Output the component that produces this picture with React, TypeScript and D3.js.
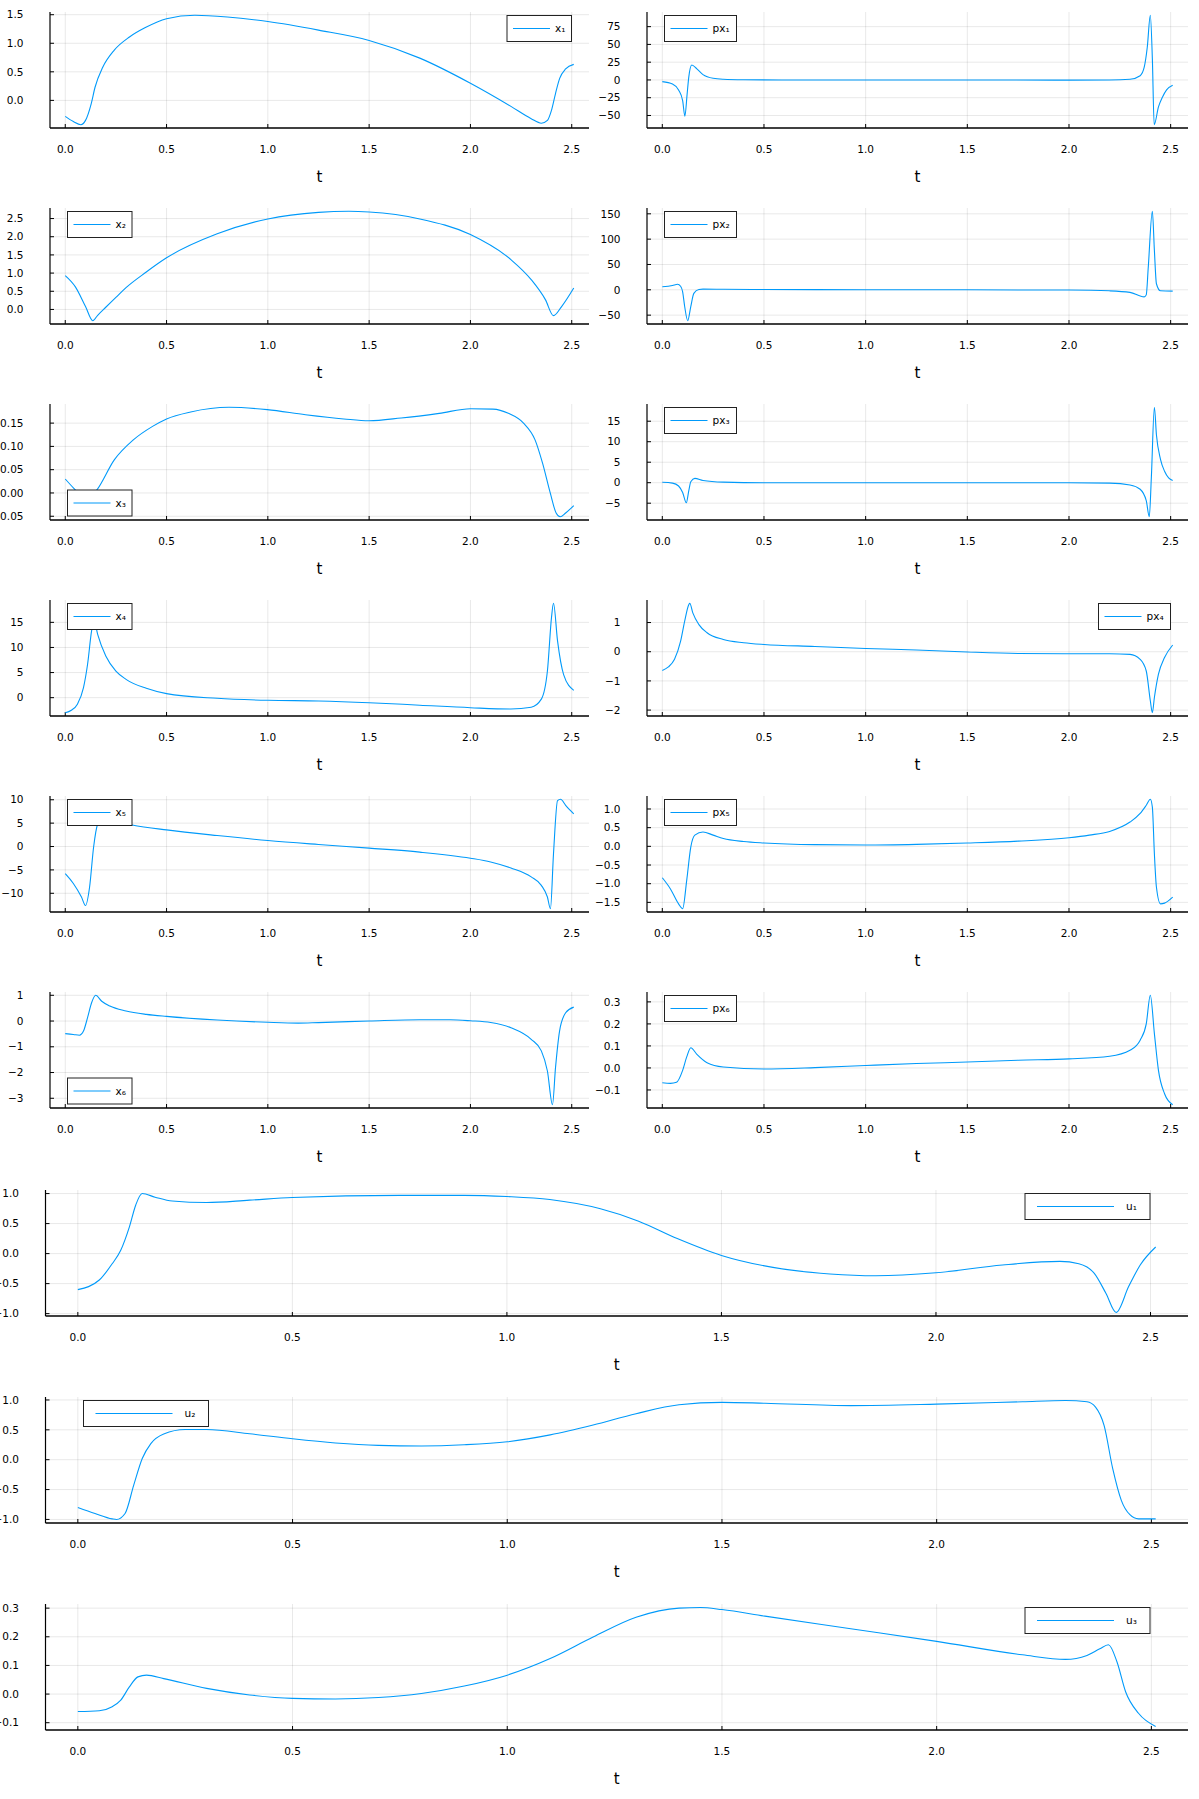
import * as d3 from 'd3';

type Pt = [number, number];

// t grid values for all panels
const tTicks = [0, 0.5, 1, 1.5, 2, 2.5];

const x1: Pt[] = [[0,-0.28],[0.04,-0.37],[0.077,-0.426],[0.1,-0.35],[0.128,-0.06],[0.147,0.23],[0.185,0.58],[0.242,0.88],[0.317,1.11],[0.393,1.27],[0.5,1.43],[0.64,1.49],[0.8,1.46],[1.0,1.38],[1.25,1.23],[1.5,1.05],[1.75,0.74],[2.0,0.30],[2.2,-0.105],[2.3,-0.32],[2.35,-0.40],[2.38,-0.35],[2.4,-0.175],[2.42,0.12],[2.44,0.38],[2.47,0.55],[2.51,0.63]];
const px1: Pt[] = [[0,-2.3],[0.05,-5.6],[0.08,-14],[0.1,-29],[0.111,-51],[0.122,-20],[0.13,3.7],[0.145,21],[0.17,15.5],[0.2,7.5],[0.25,2.3],[0.3,1],[0.4,0.3],[0.6,0],[1.0,0],[1.5,0],[2.0,-0.2],[2.2,0],[2.3,1],[2.35,6],[2.37,18],[2.385,46],[2.4,91],[2.41,30],[2.419,-63],[2.44,-38],[2.46,-24],[2.48,-14],[2.51,-7.5]];
const x2: Pt[] = [[0,0.93],[0.05,0.62],[0.1,0.08],[0.136,-0.31],[0.16,-0.16],[0.2,0.06],[0.25,0.33],[0.3,0.6],[0.4,1.03],[0.5,1.42],[0.75,2.08],[1.0,2.49],[1.25,2.67],[1.4,2.70],[1.5,2.68],[1.75,2.49],[2.0,2.06],[2.2,1.37],[2.3,0.82],[2.37,0.27],[2.41,-0.17],[2.45,0.08],[2.51,0.59]];
const px2: Pt[] = [[0,6],[0.05,8.5],[0.075,11],[0.09,7],[0.1,-4],[0.11,-33],[0.125,-61],[0.14,-33],[0.155,-7],[0.18,0.7],[0.2,1.3],[0.3,1],[0.5,0.5],[1.0,0.2],[1.5,0],[2.0,-0.5],[2.2,-2],[2.3,-5],[2.37,-14],[2.38,-10],[2.39,45],[2.41,155],[2.42,78],[2.43,12],[2.45,-2],[2.51,-2.6]];
const x3: Pt[] = [[0,0.030],[0.04,0.011],[0.08,-0.006],[0.11,-0.009],[0.14,-0.002],[0.157,0.007],[0.242,0.071],[0.336,0.114],[0.431,0.143],[0.5,0.159],[0.619,0.174],[0.808,0.184],[0.997,0.179],[1.186,0.168],[1.375,0.159],[1.499,0.155],[1.658,0.161],[1.846,0.171],[2.0,0.181],[2.111,0.180],[2.187,0.171],[2.262,0.150],[2.319,0.114],[2.356,0.064],[2.394,0.0],[2.423,-0.043],[2.443,-0.051],[2.47,-0.043],[2.51,-0.027]];
const px3: Pt[] = [[0,0.1],[0.05,-0.1],[0.08,-0.8],[0.1,-2.4],[0.118,-4.9],[0.13,-2],[0.14,0.25],[0.16,1.05],[0.2,0.55],[0.3,0.15],[0.5,0],[1.0,0],[1.5,0],[2.0,0],[2.2,-0.1],[2.3,-0.55],[2.35,-1.6],[2.38,-4.4],[2.395,-8.3],[2.405,1.2],[2.42,18.4],[2.43,11.7],[2.45,5.7],[2.47,2.8],[2.49,1.2],[2.51,0.55]];
const x4: Pt[] = [[0,-3.0],[0.03,-2.5],[0.06,-1.3],[0.09,2.0],[0.11,6.6],[0.13,13.3],[0.142,15.5],[0.16,12.6],[0.2,8.3],[0.25,5.3],[0.3,3.65],[0.4,1.86],[0.5,0.8],[0.75,-0.13],[1.0,-0.53],[1.25,-0.66],[1.5,-1.0],[1.75,-1.5],[2.0,-2.0],[2.2,-2.26],[2.3,-1.9],[2.35,-0.3],[2.38,5.3],[2.4,15.9],[2.41,18.8],[2.43,11.3],[2.46,4.6],[2.51,1.46]];
const px4: Pt[] = [[0,-0.64],[0.03,-0.52],[0.06,-0.26],[0.09,0.36],[0.11,1.05],[0.13,1.61],[0.135,1.66],[0.15,1.33],[0.18,0.93],[0.22,0.65],[0.3,0.42],[0.4,0.31],[0.5,0.25],[0.75,0.18],[1.0,0.11],[1.25,0.06],[1.5,-0.01],[1.75,-0.06],[2.0,-0.07],[2.2,-0.07],[2.3,-0.09],[2.35,-0.26],[2.38,-0.66],[2.4,-1.68],[2.41,-2.09],[2.42,-1.57],[2.44,-0.77],[2.47,-0.2],[2.51,0.23]];
const x5: Pt[] = [[0,-5.8],[0.04,-7.9],[0.08,-10.8],[0.1,-12.6],[0.12,-8.7],[0.14,-0.1],[0.16,4.8],[0.18,5.9],[0.22,5.6],[0.33,4.6],[0.5,3.55],[0.75,2.34],[1.0,1.28],[1.25,0.43],[1.5,-0.35],[1.75,-1.2],[2.0,-2.5],[2.1,-3.3],[2.2,-4.6],[2.3,-6.5],[2.35,-8.3],[2.38,-10.8],[2.395,-13.3],[2.41,-1.6],[2.43,9.8],[2.445,10.1],[2.47,8.8],[2.51,7.0]];
const px5: Pt[] = [[0,-0.84],[0.04,-1.14],[0.08,-1.54],[0.1,-1.67],[0.12,-0.91],[0.14,-0.02],[0.16,0.3],[0.2,0.385],[0.25,0.3],[0.3,0.21],[0.4,0.13],[0.5,0.09],[0.75,0.045],[1.0,0.036],[1.25,0.054],[1.5,0.09],[1.75,0.14],[2.0,0.23],[2.1,0.3],[2.2,0.40],[2.3,0.65],[2.35,0.88],[2.38,1.1],[2.4,1.26],[2.41,1.05],[2.42,-0.2],[2.43,-1.09],[2.45,-1.54],[2.47,-1.52],[2.51,-1.36]];
const x6: Pt[] = [[0,-0.49],[0.04,-0.52],[0.07,-0.55],[0.09,-0.39],[0.11,0.13],[0.13,0.71],[0.15,1.0],[0.18,0.77],[0.22,0.58],[0.3,0.39],[0.4,0.26],[0.5,0.18],[0.75,0.04],[1.0,-0.05],[1.15,-0.08],[1.25,-0.06],[1.5,0],[1.75,0.05],[1.9,0.05],[2.0,0.01],[2.1,-0.06],[2.2,-0.26],[2.3,-0.71],[2.35,-1.16],[2.38,-1.94],[2.405,-3.25],[2.42,-1.81],[2.44,-0.39],[2.47,0.32],[2.51,0.54]];
const px6: Pt[] = [[0,-0.067],[0.04,-0.07],[0.07,-0.065],[0.1,-0.011],[0.12,0.05],[0.14,0.092],[0.17,0.062],[0.22,0.024],[0.3,0.0045],[0.5,-0.0045],[0.75,0.0015],[1.0,0.011],[1.25,0.02],[1.5,0.027],[1.75,0.035],[2.0,0.041],[2.2,0.053],[2.3,0.08],[2.35,0.126],[2.38,0.2],[2.4,0.33],[2.42,0.156],[2.44,-0.011],[2.47,-0.117],[2.51,-0.167]];
const u1: Pt[] = [[0,-0.6],[0.05,-0.44],[0.08,-0.17],[0.1,0.055],[0.12,0.44],[0.135,0.81],[0.15,1.0],[0.18,0.94],[0.22,0.875],[0.3,0.85],[0.4,0.89],[0.5,0.934],[0.75,0.97],[0.9,0.97],[1.0,0.95],[1.1,0.90],[1.218,0.746],[1.307,0.54],[1.397,0.25],[1.5,-0.03],[1.62,-0.23],[1.753,-0.34],[1.86,-0.37],[2.0,-0.32],[2.155,-0.19],[2.289,-0.13],[2.333,-0.17],[2.369,-0.33],[2.396,-0.66],[2.42,-0.98],[2.449,-0.55],[2.476,-0.19],[2.512,0.11]];
const u2: Pt[] = [[0,-0.80],[0.04,-0.9],[0.08,-0.99],[0.09,-1.0],[0.11,-0.9],[0.13,-0.43],[0.15,0.02],[0.17,0.27],[0.2,0.43],[0.25,0.505],[0.3,0.505],[0.4,0.435],[0.5,0.35],[0.6,0.28],[0.7,0.24],[0.8,0.23],[0.9,0.25],[1.0,0.30],[1.1,0.415],[1.2,0.58],[1.3,0.77],[1.4,0.92],[1.5,0.96],[1.6,0.945],[1.8,0.905],[2.0,0.93],[2.2,0.97],[2.3,0.99],[2.35,0.97],[2.37,0.88],[2.39,0.57],[2.41,-0.15],[2.43,-0.68],[2.45,-0.92],[2.47,-0.99],[2.51,-0.99]];
const u3: Pt[] = [[0,-0.061],[0.05,-0.058],[0.08,-0.044],[0.1,-0.021],[0.12,0.025],[0.14,0.06],[0.16,0.066],[0.2,0.054],[0.3,0.02],[0.4,-0.003],[0.5,-0.015],[0.6,-0.017],[0.7,-0.012],[0.8,0.002],[0.9,0.028],[1.0,0.066],[1.1,0.124],[1.2,0.199],[1.3,0.268],[1.4,0.30],[1.45,0.302],[1.5,0.295],[1.6,0.272],[1.8,0.228],[2.0,0.184],[2.2,0.137],[2.3,0.121],[2.35,0.135],[2.38,0.158],[2.4,0.172],[2.42,0.112],[2.44,0.008],[2.47,-0.067],[2.51,-0.113]];

const panels = [
  { label: 'x₁', data: x1, yTicks: [0, 0.5, 1, 1.5], fmt: '.1f', row: 0, col: 0, legend: 'tr' },
  { label: 'px₁', data: px1, yTicks: [-50, -25, 0, 25, 50, 75], fmt: 'd', row: 0, col: 1, legend: 'tl' },
  { label: 'x₂', data: x2, yTicks: [0, 0.5, 1, 1.5, 2, 2.5], fmt: '.1f', row: 1, col: 0, legend: 'tl' },
  { label: 'px₂', data: px2, yTicks: [-50, 0, 50, 100, 150], fmt: 'd', row: 1, col: 1, legend: 'tl' },
  { label: 'x₃', data: x3, yTicks: [-0.05, 0, 0.05, 0.1, 0.15], fmt: '.2f', row: 2, col: 0, legend: 'bl' },
  { label: 'px₃', data: px3, yTicks: [-5, 0, 5, 10, 15], fmt: 'd', row: 2, col: 1, legend: 'tl' },
  { label: 'x₄', data: x4, yTicks: [0, 5, 10, 15], fmt: 'd', row: 3, col: 0, legend: 'tl' },
  { label: 'px₄', data: px4, yTicks: [-2, -1, 0, 1], fmt: 'd', row: 3, col: 1, legend: 'tr' },
  { label: 'x₅', data: x5, yTicks: [-10, -5, 0, 5, 10], fmt: 'd', row: 4, col: 0, legend: 'tl' },
  { label: 'px₅', data: px5, yTicks: [-1.5, -1, -0.5, 0, 0.5, 1], fmt: '.1f', row: 4, col: 1, legend: 'tl' },
  { label: 'x₆', data: x6, yTicks: [-3, -2, -1, 0, 1], fmt: 'd', row: 5, col: 0, legend: 'bl' },
  { label: 'px₆', data: px6, yTicks: [-0.1, 0, 0.1, 0.2, 0.3], fmt: '.1f', row: 5, col: 1, legend: 'tl' },
  { label: 'u₁', data: u1, yTicks: [-1, -0.5, 0, 0.5, 1], fmt: '.1f', row: 6, col: -1, legend: 'tr' },
  { label: 'u₂', data: u2, yTicks: [-1, -0.5, 0, 0.5, 1], fmt: '.1f', row: 7, col: -1, legend: 'tl' },
  { label: 'u₃', data: u3, yTicks: [-0.1, 0, 0.1, 0.2, 0.3], fmt: '.1f', row: 8, col: -1, legend: 'tr' },
];

const FONT = '"DejaVu Sans", sans-serif';
const BLUE = '#009afa';

const padded = (vals: number[]) => {
  const [lo, hi] = d3.extent(vals) as [number, number];
  const p = (hi - lo) * 0.03;
  return [lo - p, hi + p];
};

function Panel({ p }: { p: typeof panels[number] }) {
  const wide = p.col < 0;
  const left = wide ? 45.5 : p.col === 1 ? 647 : 50;
  const right = wide ? 1188 : p.col === 1 ? 1188 : 589;
  const top = wide ? 1190 + 207 * (p.row - 6) : 12 + 196 * p.row;
  const bottom = top + (wide ? 126 : 116);

  const x = d3.scaleLinear().domain(padded(p.data.map((d) => d[0]))).range([left, right]);
  const y = d3.scaleLinear().domain(padded(p.data.map((d) => d[1]))).range([bottom, top]);
  const fy = d3.format(p.fmt);
  const fx = d3.format('.1f');

  const line = d3.line<Pt>().x((d) => x(d[0])).y((d) => y(d[1])).curve(d3.curveMonotoneX);

  // legend box
  const lw = wide ? 125 : p.label.startsWith('p') ? 72 : 64.5;
  const lh = 26;
  const inset = wide ? 38 : 17.5;
  const lx = p.legend === 'tr' ? right - inset - lw : left + inset;
  const ly = p.legend === 'bl' ? bottom - 4 - lh : top + 3.5;
  const lineLen = wide ? 77 : 37;
  const lpad = wide ? 12 : 6;

  return (
    <g>
      {tTicks.map((t) => (
        <line key={'gx' + t} x1={x(t)} x2={x(t)} y1={top} y2={bottom} stroke="#000" strokeOpacity={0.09} />
      ))}
      {p.yTicks.map((v) => (
        <line key={'gy' + v} x1={left} x2={right} y1={y(v)} y2={y(v)} stroke="#000" strokeOpacity={0.09} />
      ))}
      <line x1={left} x2={left} y1={top} y2={bottom} stroke="#000" strokeWidth={1.2} />
      <line x1={left} x2={right} y1={bottom} y2={bottom} stroke="#000" strokeWidth={1.3} />
      {tTicks.map((t) => (
        <g key={'tx' + t}>
          <line x1={x(t)} x2={x(t)} y1={bottom} y2={bottom - 4} stroke="#000" />
          <text x={x(t)} y={bottom + 25} textAnchor="middle" fontSize={10.5} fontFamily={FONT} fill="#000">
            {fx(t)}
          </text>
        </g>
      ))}
      {p.yTicks.map((v) => (
        <g key={'ty' + v}>
          <line x1={left} x2={left + 4} y1={y(v)} y2={y(v)} stroke="#000" />
          <text x={left - 26.5} y={y(v) + 3.7} textAnchor="end" fontSize={10.5} fontFamily={FONT} fill="#000">
            {fy(v)}
          </text>
        </g>
      ))}
      <text x={(left + right) / 2} y={bottom + 54} textAnchor="middle" fontSize={15} fontFamily={FONT} fill="#000">
        t
      </text>
      <path d={line(p.data) ?? ''} fill="none" stroke={BLUE} strokeWidth={1.1} />
      <rect x={lx} y={ly} width={lw} height={lh} fill="#fff" stroke="#222" strokeWidth={1} />
      <line x1={lx + lpad} x2={lx + lpad + lineLen} y1={ly + lh / 2} y2={ly + lh / 2} stroke={BLUE} strokeWidth={1.1} />
      <text x={lx + lpad + lineLen + (wide ? 12 : 5)} y={ly + lh / 2 + 3.7} fontSize={10.5} fontFamily={FONT} fill="#000">
        {p.label}
      </text>
    </g>
  );
}

export default function App() {
  return (
    <svg
      width={1199}
      height={1799}
      viewBox="0 0 1199 1799"
      style={{ position: 'absolute', left: 0, top: 0, background: '#fff' }}
    >
      <rect width={1199} height={1799} fill="#fff" />
      {panels.map((p) => (
        <Panel key={p.label} p={p} />
      ))}
    </svg>
  );
}
